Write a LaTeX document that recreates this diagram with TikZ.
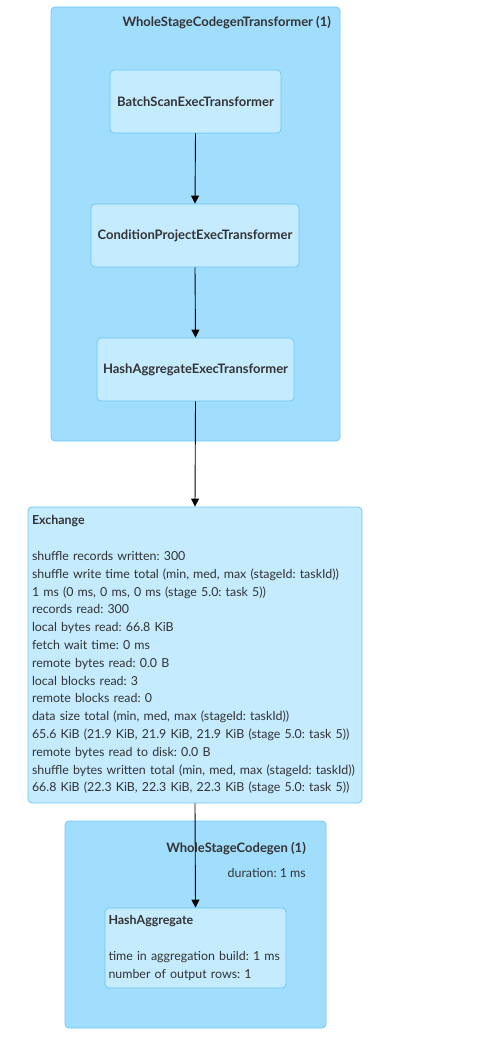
\documentclass[tikz,border=0pt]{standalone}
\usepackage{fontspec}
\setmainfont{Lato}
\frenchspacing
\usetikzlibrary{arrows.meta}
\definecolor{clfill}{RGB}{161,221,253}
\definecolor{clborder}{RGB}{110,200,245}
\definecolor{ndfill}{RGB}{196,235,255}
\definecolor{ndborder}{RGB}{110,200,245}
\definecolor{txt}{RGB}{51,51,51}
\begin{document}
\begin{tikzpicture}[x=1pt,y=-1pt,
 cluster/.style={draw=clborder, fill=clfill, rounded corners=4pt, line width=0.8pt, inner sep=0pt},
 opnode/.style={draw=ndborder, fill=ndfill, rounded corners=4pt, line width=0.8pt, text=txt, font=\frenchspacing\fontsize{12.4}{17.8}\selectfont},
 boldnode/.style={opnode, font=\fontsize{13}{17.8}\selectfont\bfseries},
 title/.style={text=txt, font=\fontsize{13}{14}\selectfont\bfseries, inner sep=0pt},
 plain/.style={text=txt, font=\fontsize{12.4}{14}\selectfont, inner sep=0pt},
 flow/.style={-{Triangle[length=8pt,width=8pt]}, line width=0.9pt, black}]
\useasboundingbox (0,0) rectangle (491,1041);
% cluster 1
\node[cluster, minimum width=289pt, minimum height=434pt] (c1) at (195.5,224) {};
\node[title, anchor=east] (c1t) at (331,23) {WholeStageCodegenTransformer (1)};
\node[boldnode, minimum width=171pt, minimum height=63pt] (bs) at (195.5,101.5) {BatchScanExecTransformer};
\node[boldnode, minimum width=208pt, minimum height=63pt] (cp) at (195,235.5) {ConditionProjectExecTransformer};
\node[boldnode, minimum width=197pt, minimum height=63pt] (ha1) at (195.5,369.5) {HashAggregateExecTransformer};
% exchange
\node[opnode, minimum width=334pt, minimum height=296pt, text width=326pt, inner xsep=4pt, align=left] (ex) at (195,655) {%
\textbf{Exchange}\\[17.8pt]
shuffle records written: 300\\
shuffle write time total (min, med, max (stageId: taskId))\\
1 ms (0 ms, 0 ms, 0 ms (stage 5.0: task 5))\\
records read: 300\\
local bytes read: 66.8 KiB\\
fetch wait time: 0 ms\\
remote bytes read: 0.0 B\\
local blocks read: 3\\
remote blocks read: 0\\
data size total (min, med, max (stageId: taskId))\\
65.6 KiB (21.9 KiB, 21.9 KiB, 21.9 KiB (stage 5.0: task 5))\\
remote bytes read to disk: 0.0 B\\
shuffle bytes written total (min, med, max (stageId: taskId))\\
66.8 KiB (22.3 KiB, 22.3 KiB, 22.3 KiB (stage 5.0: task 5))};
% cluster 2
\node[cluster, minimum width=261pt, minimum height=207pt] (c2) at (195.5,924.5) {};
\node[title, anchor=east] (c2t) at (306,849) {WholeStageCodegen (1)};
\node[plain, anchor=east] (c2d) at (306,873) {duration: 1 ms};
\node[opnode, minimum width=181pt, minimum height=80pt, text width=174pt, inner xsep=3.5pt, align=left] (ha2) at (195.5,948) {%
\textbf{HashAggregate}\\[17.8pt]
time in aggregation build: 1 ms\\
number of output rows: 1};
% connectors
\draw[flow] (bs.south) -- (cp.north);
\draw[flow] (cp.south) -- (ha1.north);
\draw[flow] (ha1.south) -- (ex.north);
\draw[flow] (ex.south) -- (ha2.north);
\end{tikzpicture}
\end{document}
